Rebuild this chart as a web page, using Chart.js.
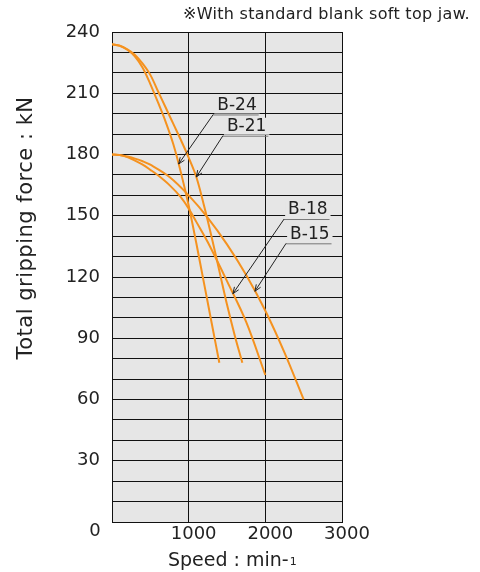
<!DOCTYPE html>
<html>
<head>
<meta charset="utf-8">
<script src="https://cdn.jsdelivr.net/npm/chart.js@4.4.0/dist/chart.umd.min.js"></script>
<style>
  html, body { margin: 0; padding: 0; background: #fff; }
  #wrap { width: 480px; height: 572px; position: relative; }
</style>
</head>
<body>
<div id="wrap"><canvas id="chart"></canvas></div>
<script>
/* Data (speed min-1 / force kN) */
const speedB24 = [0, 100, 200, 300, 400, 500, 600, 700, 800, 900, 1000, 1100, 1200, 1300, 1400];
const forceB24 = [234, 233.3, 231.3, 228, 222.5, 214.5, 205.5, 196, 185, 171, 155, 136.5, 117, 97.5, 78];
const speedB21 = [0, 100, 200, 300, 400, 500, 600, 700, 800, 900, 1000, 1100, 1200, 1300, 1400, 1500, 1600, 1700];
const forceB21 = [234, 233.3, 231.5, 228.8, 224.5, 219, 211, 203, 195, 187, 178.5, 169, 155, 139.5, 123, 106.5, 91.5, 78];
const speedB18 = [0, 100, 200, 300, 400, 500, 600, 750, 900, 1000, 1100, 1250, 1500, 1750, 2000];
const forceB18 = [180, 179.7, 178.7, 177, 175, 172.5, 169.8, 165, 159, 153.5, 147, 137, 118, 98, 72];
const speedB15 = [0, 100, 200, 300, 400, 500, 750, 1000, 1250, 1500, 1750, 2000, 2250, 2500];
const forceB15 = [180, 179.8, 179, 178, 176.7, 175, 169, 160, 149, 136, 121, 103.5, 83, 60];
const seriesNames = ['B-24', 'B-21', 'B-18', 'B-15'];
const xTickValues = [0, 1000, 2000, 3000];
const yLabelStep = 30;

const noteText = '\u203BWith standard blank soft top jaw.';
const yTitle = 'Total gripping force : kN';
const xTitle = 'Speed : min-';
const xTitleSup = '1';

/* Theme */
const COLOR_LINE = '#f5921f';
const COLOR_PLOT = '#e6e6e6';
const COLOR_TEXT = '#222';
const FONT = '"DejaVu Sans", sans-serif';

const series = [
  { name: seriesNames[0], xs: speedB24, ys: forceB24 },
  { name: seriesNames[1], xs: speedB21, ys: forceB21 },
  { name: seriesNames[2], xs: speedB18, ys: forceB18 },
  { name: seriesNames[3], xs: speedB15, ys: forceB15 }
];

/* callouts: left end of the underline (data units) and speed where the arrow hits the curve */
const callouts = [
  { idx: 0, at: [1321, 199.6], tipSpeed: 869 },
  { idx: 1, at: [1447, 189.2], tipSpeed: 1100 },
  { idx: 2, at: [2245, 148.4], tipSpeed: 1577 },
  { idx: 3, at: [2271, 136.5], tipSpeed: 1864 }
];

function forceAt(s, v) {
  for (let i = 1; i < s.xs.length; i++) {
    if (v <= s.xs[i]) {
      const t = (v - s.xs[i - 1]) / (s.xs[i] - s.xs[i - 1]);
      return s.ys[i - 1] + t * (s.ys[i] - s.ys[i - 1]);
    }
  }
  return s.ys[s.ys.length - 1];
}

const decorPlugin = {
  id: 'decor',
  beforeDraw(chart) {
    const { ctx, chartArea: a } = chart;
    ctx.save();
    ctx.fillStyle = COLOR_PLOT;
    ctx.fillRect(a.left, a.top, a.right - a.left, a.bottom - a.top);
    ctx.restore();
  },
  afterDraw(chart) {
    const { ctx, chartArea: a } = chart;
    const xs = chart.scales.x, ys = chart.scales.y;
    ctx.save();

    // callouts
    ctx.font = '17px ' + FONT;
    ctx.textBaseline = 'middle';
    ctx.textAlign = 'left';
    callouts.forEach(c => {
      const s = series[c.idx];
      const x0 = xs.getPixelForValue(c.at[0]);
      const y0 = ys.getPixelForValue(c.at[1]);
      const w = ctx.measureText(s.name).width;
      ctx.fillStyle = COLOR_PLOT;
      ctx.fillRect(x0 + 1, y0 - 18, w + 6, 17);
      ctx.fillStyle = COLOR_TEXT;
      ctx.fillText(s.name, x0 + 4, y0 - 9);
      ctx.strokeStyle = '#777';
      ctx.lineWidth = 1;
      ctx.beginPath();
      ctx.moveTo(x0, y0 + 0.5);
      ctx.lineTo(x0 + w + 6, y0 + 0.5);
      ctx.stroke();
      // arrow
      const tx = xs.getPixelForValue(c.tipSpeed);
      const ty = ys.getPixelForValue(forceAt(s, c.tipSpeed));
      ctx.strokeStyle = '#222';
      ctx.beginPath();
      ctx.moveTo(x0, y0);
      ctx.lineTo(tx, ty);
      const ang = Math.atan2(ty - y0, tx - x0);
      const hl = 7, ha = 0.38;
      ctx.moveTo(tx, ty);
      ctx.lineTo(tx - hl * Math.cos(ang - ha), ty - hl * Math.sin(ang - ha));
      ctx.moveTo(tx, ty);
      ctx.lineTo(tx - hl * Math.cos(ang + ha), ty - hl * Math.sin(ang + ha));
      ctx.stroke();
    });

    // note
    ctx.fillStyle = COLOR_TEXT;
    ctx.font = '16px ' + FONT;
    ctx.letterSpacing = '0.3px';
    ctx.textAlign = 'right';
    ctx.textBaseline = 'middle';
    ctx.fillText(noteText, 470, 15);
    ctx.letterSpacing = '0px';

    // corner zero
    ctx.font = '18px ' + FONT;
    ctx.textAlign = 'center';
    ctx.fillText('0', a.left - 17, a.bottom + 9);

    // x title
    ctx.font = '19px ' + FONT;
    ctx.textAlign = 'left';
    ctx.textBaseline = 'alphabetic';
    ctx.fillText(xTitle, 168, 566);
    const tw = ctx.measureText(xTitle).width;
    ctx.font = '11px ' + FONT;
    ctx.fillText(xTitleSup, 168 + tw + 1, 565);

    // y title
    ctx.translate(27, 228);
    ctx.rotate(-Math.PI / 2);
    ctx.font = '21px ' + FONT;
    ctx.letterSpacing = '0.5px';
    ctx.textAlign = 'center';
    ctx.textBaseline = 'middle';
    ctx.fillText(yTitle, 0, 0);
    ctx.restore();
  }
};

const datasets = series.map(s => ({
  label: s.name,
  data: s.xs.map((v, i) => ({ x: v, y: s.ys[i] })),
  borderColor: COLOR_LINE,
  backgroundColor: COLOR_LINE,
  borderWidth: 2,
  pointRadius: 0,
  showLine: true,
  fill: false,
  tension: 0.35
}));

new Chart(document.getElementById('chart').getContext('2d'), {
  type: 'scatter',
  data: { datasets },
  options: {
    responsive: true,
    maintainAspectRatio: false,
    animation: false,
    layout: { padding: { top: 32, right: 138, left: 0, bottom: 0 } },
    plugins: { legend: { display: false }, tooltip: { enabled: false } },
    scales: {
      x: {
        type: 'linear', min: 0, max: 3000,
        afterFit(scale) { scale.height = 50; },
        afterBuildTicks(scale) { scale.ticks = xTickValues.map(v => ({ value: v })); },
        grid: { color: '#111', lineWidth: 1, drawTicks: false },
        border: { color: '#111' },
        ticks: {
          color: COLOR_TEXT, font: { family: FONT, size: 18 }, padding: 2,
          maxRotation: 0, autoSkip: false, labelOffset: 5,
          callback: v => (v === 0 ? '' : String(v))
        }
      },
      y: {
        type: 'linear', min: 0, max: 240,
        afterFit(scale) { scale.width = 112; },
        grid: { color: '#111', lineWidth: 1, drawTicks: false },
        border: { color: '#111' },
        ticks: {
          stepSize: 10, color: COLOR_TEXT, font: { family: FONT, size: 18 }, padding: 12,
          autoSkip: false,
          callback: v => (v !== 0 && v % yLabelStep === 0 ? String(v) : '')
        }
      }
    }
  },
  plugins: [decorPlugin]
});
</script>
</body>
</html>
